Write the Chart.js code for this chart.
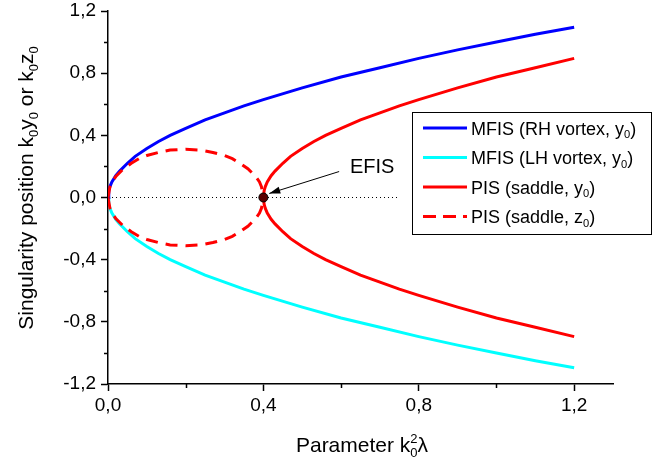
<!DOCTYPE html>
<html>
<head>
<meta charset="utf-8">
<script src="https://cdn.jsdelivr.net/npm/chart.js@4.4.1/dist/chart.umd.min.js"></script>
<style>
  body { margin: 0; background: #fff; }
  canvas { display: block; }
</style>
</head>
<body>
<canvas id="chart" width="661" height="465"></canvas>
<script>
// values
var xRH = [0, 0.002, 0.005, 0.01, 0.02, 0.03, 0.05, 0.07, 0.1, 0.13, 0.16, 0.2, 0.25, 0.3, 0.35, 0.4, 0.5, 0.6, 0.7, 0.8, 0.9, 1.0, 1.1, 1.2];
var yRH = [0, 0.045, 0.07, 0.10, 0.14, 0.17, 0.22, 0.265, 0.315, 0.36, 0.40, 0.445, 0.50, 0.545, 0.59, 0.63, 0.705, 0.775, 0.835, 0.895, 0.95, 1.0, 1.05, 1.095];
var yLH = [0, -0.045, -0.07, -0.10, -0.14, -0.17, -0.22, -0.265, -0.315, -0.36, -0.40, -0.445, -0.50, -0.545, -0.59, -0.63, -0.705, -0.775, -0.835, -0.895, -0.95, -1.0, -1.05, -1.095];

var xPIS = [0.4, 0.402, 0.405, 0.41, 0.42, 0.43, 0.45, 0.47, 0.5, 0.53, 0.56, 0.6, 0.65, 0.7, 0.75, 0.8, 0.9, 1.0, 1.1, 1.2];
var yPISup = [0, 0.045, 0.07, 0.10, 0.14, 0.17, 0.22, 0.265, 0.315, 0.36, 0.40, 0.445, 0.50, 0.545, 0.59, 0.63, 0.705, 0.775, 0.835, 0.895];
var yPISdn = [0, -0.045, -0.07, -0.10, -0.14, -0.17, -0.22, -0.265, -0.315, -0.36, -0.40, -0.445, -0.50, -0.545, -0.59, -0.63, -0.705, -0.775, -0.835, -0.895];

var xZ = [0, 0.005, 0.01, 0.02, 0.04, 0.06, 0.08, 0.1, 0.13, 0.16, 0.2, 0.24, 0.27, 0.3, 0.32, 0.34, 0.36, 0.38, 0.39, 0.395, 0.4];
var zUp = [0, 0.07, 0.10, 0.135, 0.185, 0.22, 0.25, 0.27, 0.29, 0.305, 0.31, 0.305, 0.29, 0.27, 0.25, 0.22, 0.185, 0.135, 0.10, 0.07, 0];
var zDn = [0, -0.07, -0.10, -0.135, -0.185, -0.22, -0.25, -0.27, -0.29, -0.305, -0.31, -0.305, -0.29, -0.27, -0.25, -0.22, -0.185, -0.135, -0.10, -0.07, 0];

var xZero = [0, 0.75];
var efis = [0.4, 0];

var legendItems = [
    { label: ['MFIS (RH vortex, y', '0', ')'], color: '#0000ff', dash: [] },
    { label: ['MFIS (LH vortex, y', '0', ')'], color: '#00ffff', dash: [] },
    { label: ['PIS (saddle, y', '0', ')'], color: '#ff0000', dash: [] },
    { label: ['PIS (saddle, z', '0', ')'], color: '#ff0000', dash: [13, 7] }
];

function pts(xs, ys) {
    return xs.map((x, i) => ({ x: x, y: ys[i] }));
}

function isMajor(v) {
    var q = v / 0.4;
    return Math.abs(q - Math.round(q)) < 1e-6;
}

var FONT = '"Liberation Sans", Arial, sans-serif';

// widths of text pieces, some of them sub/superscripts
function richWidth(ctx, parts, size) {
    var w = 0;
    parts.forEach(p => {
        ctx.font = (p.s ? size * 0.62 : size) + 'px ' + FONT;
        var t = p.s === 'subsup' ? (p.t.length > p.u.length ? p.t : p.u) : p.t;
        w += ctx.measureText(t).width;
    });
    return w;
}

function drawRich(ctx, parts, x, y, size) {
    ctx.textBaseline = 'alphabetic';
    ctx.textAlign = 'left';
    parts.forEach(p => {
        if (!p.s) {
            ctx.font = size + 'px ' + FONT;
            ctx.fillText(p.t, x, y);
            x += ctx.measureText(p.t).width;
        } else {
            ctx.font = (size * 0.62) + 'px ' + FONT;
            if (p.s === 'sub') {
                ctx.fillText(p.t, x, y + size * 0.22);
                x += ctx.measureText(p.t).width;
            } else {
                ctx.fillText(p.t, x, y + size * 0.22);
                ctx.fillText(p.u, x, y - size * 0.42);
                x += Math.max(ctx.measureText(p.t).width, ctx.measureText(p.u).width);
            }
        }
    });
}

var yTitle = [{ t: 'Singularity position k' }, { t: '0', s: 'sub' }, { t: 'y' }, { t: '0', s: 'sub' },
    { t: ' or k' }, { t: '0', s: 'sub' }, { t: 'z' }, { t: '0', s: 'sub' }];
var xTitle = [{ t: 'Parameter k' }, { t: '0', u: '2', s: 'subsup' }, { t: '\u03bb' }];

var decor = {
    id: 'decor',
    afterDraw(chart) {
        var ctx = chart.ctx;
        var xs = chart.scales.x, ys = chart.scales.y;
        ctx.save();
        ctx.fillStyle = '#000';
        ctx.strokeStyle = '#000';
        ctx.lineWidth = 1.5;

        // minor ticks
        ctx.beginPath();
        xs.ticks.forEach(t => {
            if (!isMajor(t.value)) {
                var px = Math.round(xs.getPixelForValue(t.value)) + 0.5;
                ctx.moveTo(px, xs.top);
                ctx.lineTo(px, xs.top + 4);
            }
        });
        ys.ticks.forEach(t => {
            if (!isMajor(t.value)) {
                var py = Math.round(ys.getPixelForValue(t.value)) + 0.5;
                ctx.moveTo(ys.right, py);
                ctx.lineTo(ys.right - 4, py);
            }
        });
        ctx.stroke();

        // axis titles
        var size = 21;
        var w = richWidth(ctx, xTitle, size);
        drawRich(ctx, xTitle, 362 - w / 2, 452, size);

        ctx.save();
        ctx.translate(33, 188);
        ctx.rotate(-Math.PI / 2);
        w = richWidth(ctx, yTitle, size);
        drawRich(ctx, yTitle, -w / 2, 0, size);
        ctx.restore();

        // EFIS label and arrow
        var tx = xs.getPixelForValue(0.595), ty = ys.getPixelForValue(0.167);
        var hx = xs.getPixelForValue(0.415), hy = ys.getPixelForValue(0.026);
        ctx.lineWidth = 1;
        ctx.beginPath();
        ctx.moveTo(tx, ty);
        ctx.lineTo(hx, hy);
        ctx.stroke();
        var ang = Math.atan2(hy - ty, hx - tx);
        ctx.beginPath();
        ctx.moveTo(hx, hy);
        ctx.lineTo(hx - 11 * Math.cos(ang) + 3.5 * Math.sin(ang), hy - 11 * Math.sin(ang) - 3.5 * Math.cos(ang));
        ctx.lineTo(hx - 11 * Math.cos(ang) - 3.5 * Math.sin(ang), hy - 11 * Math.sin(ang) + 3.5 * Math.cos(ang));
        ctx.closePath();
        ctx.fill();
        ctx.font = '20px ' + FONT;
        ctx.textAlign = 'left';
        ctx.textBaseline = 'alphabetic';
        ctx.fillText('EFIS', xs.getPixelForValue(0.623), 173);

        // legend box
        ctx.fillStyle = '#fff';
        ctx.fillRect(412.5, 112.5, 239, 122);
        ctx.strokeStyle = '#000';
        ctx.lineWidth = 1;
        ctx.strokeRect(412.5, 112.5, 239, 122);
        legendItems.forEach((it, i) => {
            var ry = 128 + i * 29.5;
            ctx.strokeStyle = it.color;
            ctx.lineWidth = 3;
            ctx.setLineDash(it.dash);
            ctx.beginPath();
            ctx.moveTo(423, ry);
            ctx.lineTo(467, ry);
            ctx.stroke();
            ctx.setLineDash([]);
            ctx.fillStyle = '#000';
            drawRich(ctx, [{ t: it.label[0] }, { t: it.label[1], s: 'sub' }, { t: it.label[2] }], 471, ry + 6.5, 18);
        });
        ctx.restore();
    }
};

function lineSet(data, color, dash) {
    return {
        data: data,
        showLine: true,
        borderColor: color,
        borderWidth: 3,
        borderDash: dash || [],
        pointRadius: 0,
        fill: false
    };
}

var tickFont = { family: FONT, size: 19 };

new Chart(document.getElementById('chart'), {
    type: 'scatter',
    data: {
        datasets: [
            {
                data: [{ x: efis[0], y: efis[1] }],
                pointRadius: 4.5,
                backgroundColor: '#5a0000',
                borderColor: '#000',
                borderWidth: 1
            },
            lineSet(pts(xZ, zUp), '#ff0000', [12, 8]),
            lineSet(pts(xZ, zDn), '#ff0000', [12, 8]),
            lineSet(pts(xPIS, yPISup), '#ff0000'),
            lineSet(pts(xPIS, yPISdn), '#ff0000'),
            lineSet(pts(xRH, yRH), '#0000ff'),
            lineSet(pts(xRH, yLH), '#00ffff'),
            {
                data: pts(xZero, [0, 0]),
                showLine: true,
                borderColor: '#000',
                borderWidth: 1,
                borderDash: [1, 3],
                pointRadius: 0
            }
        ]
    },
    options: {
        responsive: false,
        animation: false,
        layout: { padding: { top: 11, right: 48, left: 0, bottom: 0 } },
        plugins: {
            legend: { display: false },
            tooltip: { enabled: false }
        },
        scales: {
            x: {
                type: 'linear',
                min: 0,
                max: 1.3,
                afterFit: s => { s.height = 81; s.paddingLeft = 0; s.paddingRight = 0; },
                ticks: {
                    stepSize: 0.2,
                    includeBounds: false,
                    autoSkip: false,
                    maxRotation: 0,
                    padding: 3,
                    color: '#000',
                    font: tickFont,
                    callback: v => isMajor(v) ? v.toFixed(1).replace('.', ',') : ''
                },
                grid: {
                    drawOnChartArea: false,
                    tickLength: 7,
                    tickWidth: 1.5,
                    tickColor: c => isMajor(c.tick.value) ? '#000' : 'rgba(0,0,0,0)'
                },
                border: { display: true, color: '#000', width: 1.5 }
            },
            y: {
                min: -1.2,
                max: 1.2,
                afterFit: s => { s.width = 108; s.paddingTop = 0; s.paddingBottom = 0; },
                ticks: {
                    stepSize: 0.2,
                    autoSkip: false,
                    padding: 5,
                    color: '#000',
                    font: tickFont,
                    callback: v => isMajor(v) ? v.toFixed(1).replace('.', ',') : ''
                },
                grid: {
                    drawOnChartArea: false,
                    tickLength: 7,
                    tickWidth: 1.5,
                    tickColor: c => isMajor(c.tick.value) ? '#000' : 'rgba(0,0,0,0)'
                },
                border: { display: true, color: '#000', width: 1.5 }
            }
        }
    },
    plugins: [decor]
});
</script>
</body>
</html>
